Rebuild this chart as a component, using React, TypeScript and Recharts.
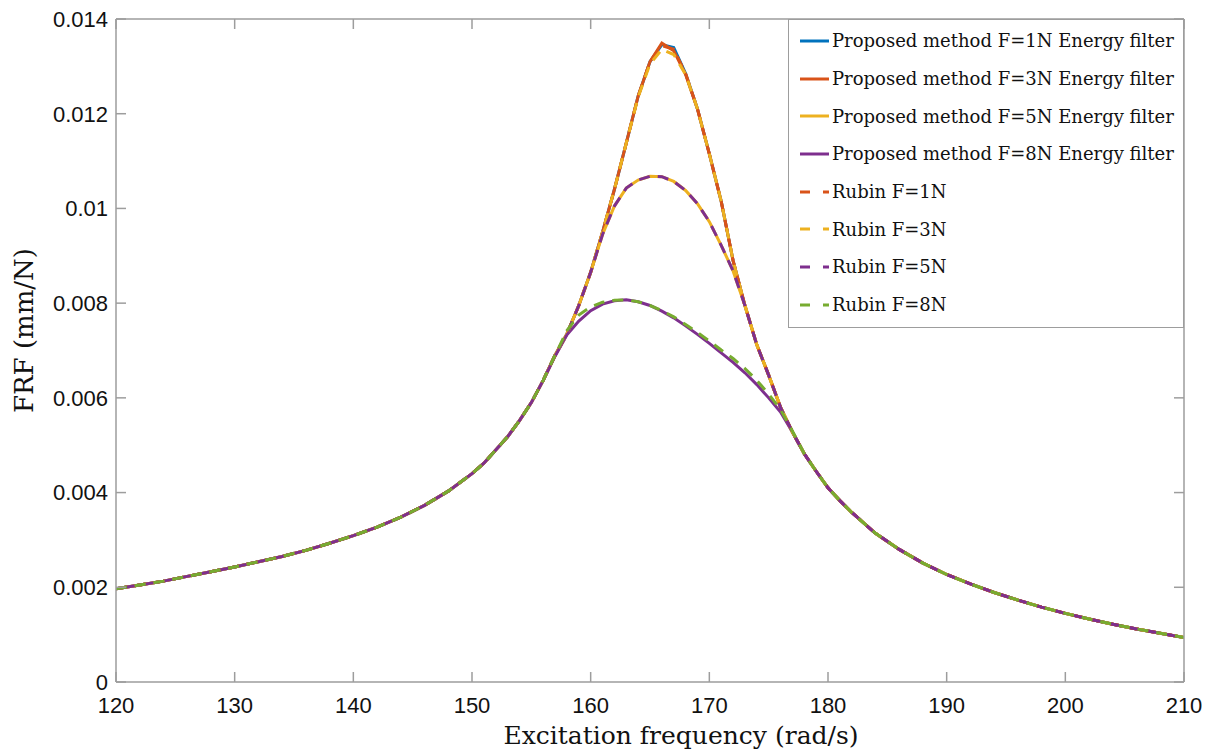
import { LineChart, Line, XAxis, YAxis, Legend } from "recharts";

// frequency grid (rad/s) and FRF values (mm/N)
const freqLow = [120, 122, 124, 126, 128, 130, 132, 134, 136, 138, 140, 142, 144, 146, 148, 150, 151, 152, 153, 154, 155, 156];
const frfLow = [0.00197, 0.00205, 0.00213, 0.00223, 0.00233, 0.00243, 0.00254, 0.00265, 0.00278, 0.00293, 0.00309, 0.00327, 0.00348, 0.00373, 0.00403, 0.0044, 0.00462, 0.0049, 0.00518, 0.00552, 0.0059, 0.00637];

const freqPeak = [157, 158, 159, 160, 161, 162, 163, 164, 165, 166, 167, 168, 169, 170, 171, 172, 173, 174, 175, 176, 177];
const proposed1N = [0.0069, 0.00735, 0.00795, 0.00865, 0.0095, 0.0104, 0.01138, 0.01237, 0.0131, 0.01346, 0.0134, 0.01285, 0.0121, 0.01115, 0.01015, 0.0089, 0.00795, 0.00712, 0.00648, 0.0058, 0.00528];
const proposed3N = [0.0069, 0.00735, 0.00795, 0.00865, 0.0095, 0.0104, 0.01138, 0.01237, 0.0131, 0.01349, 0.01333, 0.01283, 0.0121, 0.01115, 0.01015, 0.0089, 0.00795, 0.00712, 0.00648, 0.0058, 0.00528];
const proposed5N = [0.0069, 0.00735, 0.00795, 0.00865, 0.00945, 0.01005, 0.01043, 0.0106, 0.01068, 0.01067, 0.01057, 0.01038, 0.0101, 0.00972, 0.00922, 0.00868, 0.00795, 0.00712, 0.00648, 0.0058, 0.00528];
const proposed8N = [0.00688, 0.00733, 0.00762, 0.00784, 0.00798, 0.00805, 0.00807, 0.00803, 0.00795, 0.00783, 0.00769, 0.00752, 0.00734, 0.00715, 0.00695, 0.00675, 0.00653, 0.00628, 0.006, 0.0057, 0.00528];
const rubin1N = [0.0069, 0.00735, 0.00795, 0.00865, 0.0095, 0.0104, 0.01138, 0.01237, 0.0131, 0.01344, 0.01336, 0.01285, 0.0121, 0.01115, 0.01015, 0.0089, 0.00795, 0.00712, 0.00648, 0.0058, 0.00528];
const rubin3N = [0.0069, 0.00735, 0.00795, 0.00865, 0.0095, 0.0104, 0.01138, 0.01235, 0.01305, 0.01336, 0.01325, 0.01283, 0.0121, 0.01115, 0.01015, 0.0089, 0.00795, 0.00712, 0.00648, 0.0058, 0.00528];
const rubin5N = [0.0069, 0.00735, 0.00795, 0.00865, 0.00945, 0.01005, 0.01043, 0.0106, 0.01068, 0.01067, 0.01057, 0.01038, 0.0101, 0.00972, 0.00922, 0.00868, 0.00795, 0.00712, 0.00648, 0.0058, 0.00528];
const rubin8N = [0.0069, 0.00742, 0.00775, 0.00792, 0.00802, 0.00806, 0.00807, 0.00803, 0.00795, 0.00784, 0.00771, 0.00755, 0.00738, 0.0072, 0.00701, 0.00683, 0.00662, 0.00637, 0.00608, 0.00575, 0.0053];

const freqHigh = [178, 179, 180, 181, 182, 184, 186, 188, 190, 192, 194, 196, 198, 200, 202, 204, 206, 208, 210];
const frfHigh = [0.00482, 0.00445, 0.0041, 0.00383, 0.00358, 0.00314, 0.0028, 0.00251, 0.00227, 0.00207, 0.00189, 0.00173, 0.00158, 0.00145, 0.00133, 0.00122, 0.00112, 0.00103, 0.00094];

const xTicks = [120, 130, 140, 150, 160, 170, 180, 190, 200, 210];
const yTicks = [0, 0.002, 0.004, 0.006, 0.008, 0.01, 0.012, 0.014];

const SERIES = [
  { key: "p1", name: "Proposed method F=1N Energy filter", color: "#0072BD", dashed: false, peak: proposed1N },
  { key: "p3", name: "Proposed method F=3N Energy filter", color: "#D95319", dashed: false, peak: proposed3N },
  { key: "p5", name: "Proposed method F=5N Energy filter", color: "#EDB120", dashed: false, peak: proposed5N },
  { key: "p8", name: "Proposed method F=8N Energy filter", color: "#7E2F8E", dashed: false, peak: proposed8N },
  { key: "r1", name: "Rubin F=1N", color: "#D95319", dashed: true, peak: rubin1N },
  { key: "r3", name: "Rubin F=3N", color: "#EDB120", dashed: true, peak: rubin3N },
  { key: "r5", name: "Rubin F=5N", color: "#7E2F8E", dashed: true, peak: rubin5N },
  { key: "r8", name: "Rubin F=8N", color: "#77AC30", dashed: true, peak: rubin8N },
];

function buildRows() {
  const rows: Record<string, number>[] = [];
  freqLow.forEach((f, i) => {
    const row: Record<string, number> = { f };
    SERIES.forEach((s) => (row[s.key] = frfLow[i]));
    rows.push(row);
  });
  freqPeak.forEach((f, i) => {
    const row: Record<string, number> = { f };
    SERIES.forEach((s) => (row[s.key] = s.peak[i]));
    rows.push(row);
  });
  freqHigh.forEach((f, i) => {
    const row: Record<string, number> = { f };
    SERIES.forEach((s) => (row[s.key] = frfHigh[i]));
    rows.push(row);
  });
  return rows;
}

const AX = "#9d9d9d";
const INK = "#111";
const SANS = "'Liberation Sans', Arial, Helvetica, sans-serif";
const SERIF = "'DejaVu Serif', serif";
const X_GAP = 15;
const Y_GAP = 8;
const TICK_LEN = 10;
const DASH = "11 8";

function BottomTick(props: any) {
  const { x, y, payload } = props;
  const axisY = y - X_GAP;
  return (
    <g>
      <line x1={x} x2={x} y1={axisY} y2={axisY - TICK_LEN} stroke={AX} strokeWidth={1.5} />
      <text x={x} y={y} dy="0.71em" textAnchor="middle" fontSize={22} fontFamily={SANS} fill={INK}>
        {payload.value}
      </text>
    </g>
  );
}

function TopTick(props: any) {
  const { x, y } = props;
  return <line x1={x} x2={x} y1={y} y2={y + TICK_LEN} stroke={AX} strokeWidth={1.5} />;
}

function LeftTick(props: any) {
  const { x, y, payload } = props;
  const axisX = x + Y_GAP;
  return (
    <g>
      <line x1={axisX} x2={axisX + TICK_LEN} y1={y} y2={y} stroke={AX} strokeWidth={1.5} />
      <text x={x} y={y} dy="0.355em" textAnchor="end" fontSize={22} fontFamily={SANS} fill={INK}>
        {String(payload.value)}
      </text>
    </g>
  );
}

function RightTick(props: any) {
  const { x, y } = props;
  return <line x1={x} x2={x - TICK_LEN} y1={y} y2={y} stroke={AX} strokeWidth={1.5} />;
}

function XLabel(props: any) {
  const { x, y, width } = props.viewBox;
  return (
    <text x={x + width / 2 + 31} y={y + 62} textAnchor="middle" fontSize={25} fontFamily={SERIF} fill={INK}>
      Excitation frequency (rad/s)
    </text>
  );
}

function YLabel(props: any) {
  const { x, y, height } = props.viewBox;
  const cx = x + 24;
  const cy = y + height / 2 - 20;
  return (
    <text
      x={cx}
      y={cy}
      transform={`rotate(-90 ${cx} ${cy})`}
      textAnchor="middle"
      dominantBaseline="central"
      fontSize={26}
      fontFamily={SERIF}
      fill={INK}
    >
      FRF (mm/N)
    </text>
  );
}

function LegendBox() {
  return (
    <div
      style={{
        boxSizing: "border-box",
        width: 396,
        height: 309,
        border: `1px solid ${AX}`,
        background: "#fff",
        paddingTop: 2,
      }}
    >
      {SERIES.map((s) => (
        <div key={s.key} style={{ display: "flex", alignItems: "center", height: 37.7 }}>
          <svg width={43} height={20} style={{ flex: "none" }}>
            <line
              x1={11}
              x2={40}
              y1={10}
              y2={10}
              stroke={s.color}
              strokeWidth={3}
              strokeDasharray={s.dashed ? "10 13" : undefined}
            />
          </svg>
          <span style={{ fontFamily: SERIF, fontSize: 18, color: INK, whiteSpace: "nowrap" }}>{s.name}</span>
        </div>
      ))}
    </div>
  );
}

export default function App() {
  const data = buildRows();
  return (
    <div style={{ position: "absolute", left: 0, top: 0, background: "#fff" }}>
      <LineChart width={1214} height={754} data={data} margin={{ top: 0, right: 0, bottom: 0, left: 0 }}>
        <XAxis
          dataKey="f"
          type="number"
          domain={[120, 210]}
          ticks={xTicks}
          allowDataOverflow
          height={72}
          tickSize={0}
          tickMargin={X_GAP}
          tickLine={false}
          axisLine={{ stroke: AX, strokeWidth: 1.5 }}
          tick={<BottomTick />}
          label={<XLabel />}
        />
        <XAxis
          xAxisId="top"
          orientation="top"
          dataKey="f"
          type="number"
          domain={[120, 210]}
          ticks={xTicks}
          allowDataOverflow
          height={19}
          tickSize={0}
          tickMargin={0}
          tickLine={false}
          axisLine={{ stroke: AX, strokeWidth: 1.5 }}
          tick={<TopTick />}
        />
        <YAxis
          type="number"
          domain={[0, 0.014]}
          ticks={yTicks}
          allowDataOverflow
          width={116}
          tickSize={0}
          tickMargin={Y_GAP}
          tickLine={false}
          axisLine={{ stroke: AX, strokeWidth: 1.5 }}
          tick={<LeftTick />}
          label={<YLabel />}
        />
        <YAxis
          yAxisId="right"
          orientation="right"
          type="number"
          domain={[0, 0.014]}
          ticks={yTicks}
          allowDataOverflow
          width={30}
          tickSize={0}
          tickMargin={0}
          tickLine={false}
          axisLine={{ stroke: AX, strokeWidth: 1.5 }}
          tick={<RightTick />}
        />
        <Legend
          layout="vertical"
          align="center"
          verticalAlign="middle"
          wrapperStyle={{ top: 19, left: 788, width: 396, height: 309 }}
          content={() => <LegendBox />}
        />
        {SERIES.map((s) => (
          <Line
            key={s.key}
            dataKey={s.key}
            name={s.name}
            type="linear"
            stroke={s.color}
            strokeWidth={3}
            strokeDasharray={s.dashed ? DASH : undefined}
            dot={false}
            activeDot={false}
            isAnimationActive={false}
          />
        ))}
      </LineChart>
    </div>
  );
}
